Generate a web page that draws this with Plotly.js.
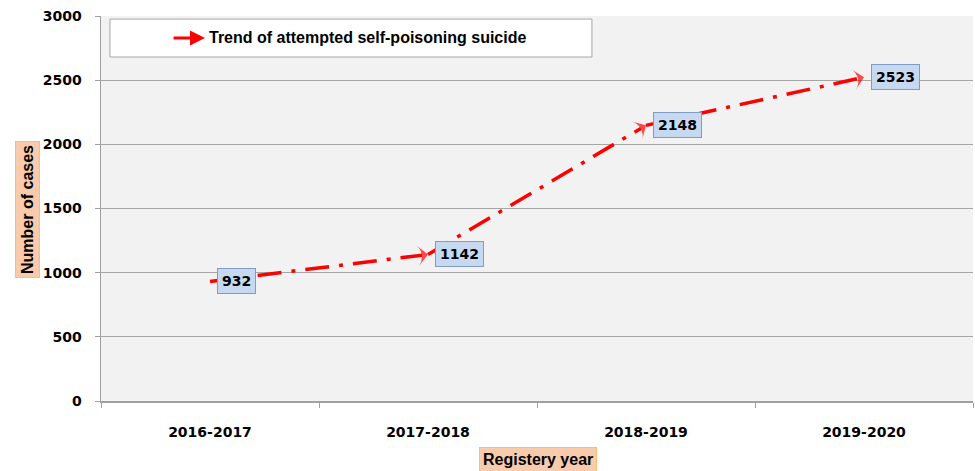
<!DOCTYPE html>
<html>
<head>
<meta charset="utf-8">
<script src="https://cdn.plot.ly/plotly-3.0.1.min.js"></script>
<style>html,body{margin:0;padding:0;background:#fff;}#chart{width:975px;height:471px;}</style>
</head>
<body>
<div id="chart"></div>
<script>
// Data
var years = ["2016-2017", "2017-2018", "2018-2019", "2019-2020"];
var cases = [932, 1142, 2148, 2523];
var seriesName = "Trend of attempted self-poisoning suicide";
var yTicks = [0, 500, 1000, 1500, 2000, 2500, 3000];

var red = "#ff0000";
var tickFont = {family: "DejaVu Sans", size: 14, color: "#000", weight: "bold"};
var calibri = {family: "Liberation Sans", size: 16, color: "#000", weight: "bold"};

var trace = {
  type: "scatter",
  mode: "lines+markers",
  x: years,
  y: cases,
  name: seriesName,
  showlegend: false,
  line: {color: red, width: 3.5, dash: "24px,10px,4px,10px"},
  marker: {
    symbol: "arrow-wide",
    angleref: "previous",
    size: cases.map(function(v, i){ return i === 0 ? 0 : 15; }),
    color: red,
    line: {width: 0}
  },
  cliponaxis: false,
  hoverinfo: "x+y"
};

var annotations = cases.map(function(v, i){
  return {
    x: years[i], y: v, xref: "x", yref: "y",
    text: String(v), showarrow: false,
    xanchor: "left", yanchor: "middle", xshift: 7,
    bgcolor: "#c6d9f1", bordercolor: "#7f9cc8", borderwidth: 1, borderpad: 4,
    font: tickFont
  };
});

// legend-like box contents
annotations.push({
  xref: "paper", yref: "paper", x: 0.1193, y: 0.943,
  text: "", showarrow: true, ax: -33, ay: 0,
  arrowcolor: red, arrowwidth: 3, arrowhead: 2, arrowsize: 1
});
annotations.push({
  xref: "paper", yref: "paper", x: 0.1216, y: 0.943,
  text: seriesName, showarrow: false, xanchor: "left", yanchor: "middle",
  font: calibri
});
// axis titles in boxes
annotations.push({
  xref: "paper", yref: "paper", x: -0.0849, y: 0.4987,
  text: "Number of cases", showarrow: false, textangle: -90,
  xanchor: "center", yanchor: "middle",
  bgcolor: "#f8cbad", bordercolor: "#f5c26b", borderwidth: 1, borderpad: 3,
  font: calibri
});
annotations.push({
  xref: "paper", yref: "paper", x: 0.501, y: -0.153,
  text: "Registery year", showarrow: false,
  xanchor: "center", yanchor: "middle",
  bgcolor: "#f8cbad", bordercolor: "#f5c26b", borderwidth: 1, borderpad: 3,
  font: calibri
});

var layout = {
  width: 975, height: 471,
  margin: {l: 101, r: 2, t: 16, b: 70},
  paper_bgcolor: "#ffffff",
  plot_bgcolor: "#f2f2f2",
  showlegend: false,
  xaxis: {
    type: "category",
    range: [-0.5, 3.5],
    showgrid: false,
    showline: true, linecolor: "#a0a0a0", linewidth: 1.5,
    ticks: "outside", tickson: "boundaries", ticklen: 5, tickcolor: "#a0a0a0",
    tickfont: tickFont,
    ticklabelstandoff: 18,
    fixedrange: true
  },
  yaxis: {
    range: [0, 3000],
    tickvals: yTicks,
    showgrid: true, gridcolor: "#a6a6a6", gridwidth: 1,
    zeroline: false,
    showline: true, linecolor: "#a0a0a0", linewidth: 1.5,
    ticks: "outside", ticklen: 5, tickcolor: "#a0a0a0",
    tickfont: tickFont,
    ticklabelstandoff: 10,
    fixedrange: true
  },
  shapes: [{
    type: "rect", xref: "paper", yref: "paper",
    x0: 0.0103, x1: 0.563, y0: 0.8935, y1: 0.992,
    fillcolor: "#ffffff", line: {color: "#a6a6a6", width: 1}, layer: "above"
  }],
  annotations: annotations
};

Plotly.newPlot("chart", [trace], layout, {displayModeBar: false, staticPlot: true});
</script>
</body>
</html>
